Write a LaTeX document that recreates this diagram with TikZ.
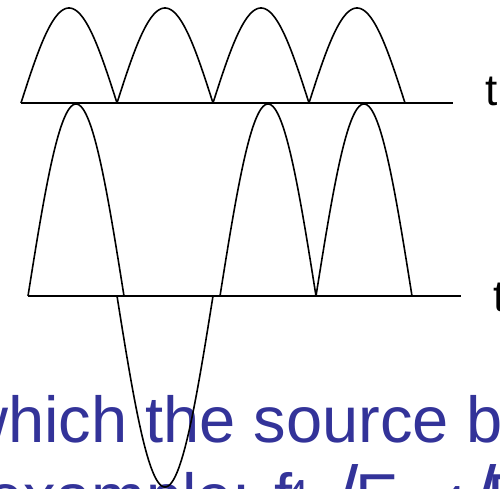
\documentclass[tikz,border=0pt]{standalone}
\usepackage{fontspec}
\setmainfont{Liberation Sans}
\definecolor{slideblue}{RGB}{51,51,153}
\begin{document}
\begin{tikzpicture}[x=1pt,y=-1pt,
  wave/.style={line width=1.6pt, line join=round},
  axisline/.style={line width=2pt},
  slidetext/.style={text=slideblue, inner sep=0pt, anchor=base west, font=\fontsize{65}{77}\selectfont},
  smalltext/.style={text=slideblue, inner sep=0pt, anchor=base west, font=\fontsize{45}{50}\selectfont},
  slashtext/.style={text=slideblue, inner sep=0pt, anchor=base west, font=\fontsize{80}{90}\selectfont},
  tlabel/.style={inner sep=0pt, anchor=base west, font=\fontsize{44}{50}\selectfont}]
\clip (0,0) rectangle (500,488);
\fill[white] (0,0) rectangle (500,488);
% text (behind the curves)
\node[slidetext] (l1) at (-39,442) {which the source bi};
\node[slidetext] (l2) at (-13,519) {example: f};
\node[smalltext] (s1) at (284,511) {4};
\node[slashtext] (sl1) at (336,522) {/};
\node[slidetext] (e1) at (355,519) {E};
\node[smalltext] (s2) at (440,517) {4};
\node[slashtext] (sl2) at (474,522) {/};
\node[slidetext] (e2) at (487,519) {E};
% top: rectified wave
\coordinate (ta) at (21,103);
\coordinate (tb) at (453,103);
\draw[axisline] (ta) -- (tb);
\draw[wave] plot[domain=0:384,samples=385] ({21+\x},{103-95*abs(sin(\x*1.875))});
\node[tlabel] (t1) at (485,105) {t};
% bottom: signal
\coordinate (ba) at (28,296);
\coordinate (bb) at (461,296);
\draw[axisline] (ba) -- (bb);
\draw[wave] plot[domain=0:96,samples=97] ({28+\x},{296-192*sin(\x*1.875)});
\draw[wave] plot[domain=0:96,samples=97] ({117+\x},{296+191*sin(\x*1.875)});
\draw[wave] plot[domain=0:192,samples=193] ({220+\x},{296-192*abs(sin(\x*1.875))});
\node[tlabel] (t2) at (493,311) {t};
\end{tikzpicture}
\end{document}
